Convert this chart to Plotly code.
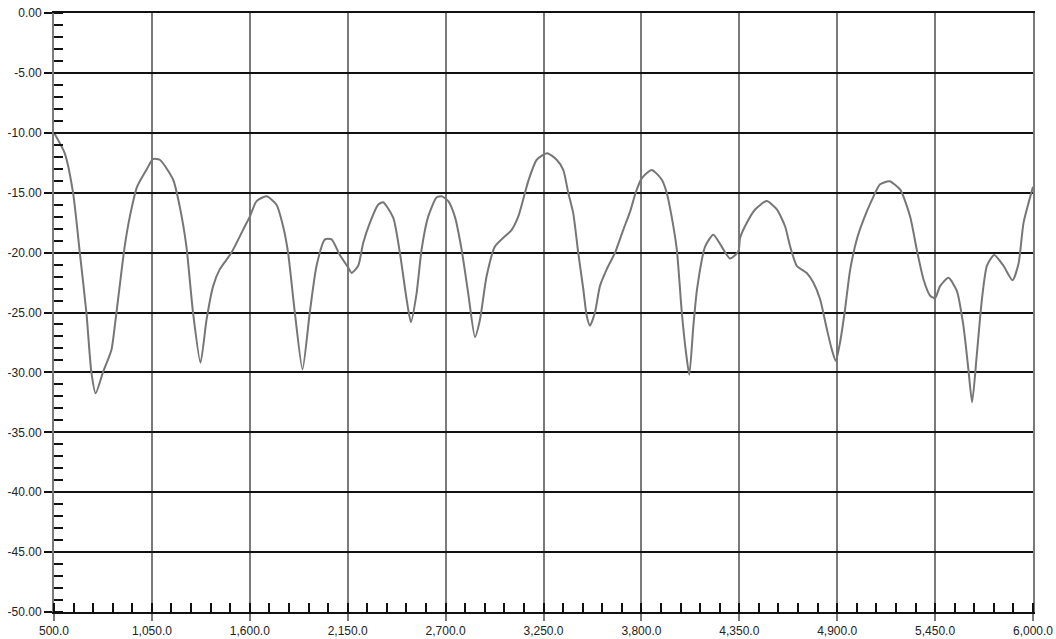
import plotly.graph_objects as go

# Frequency (x) and response level (y)
freq = [500, 560, 607, 645, 682, 710, 734, 775, 823, 841, 869, 897, 926, 967, 1019,
        1056, 1094, 1169, 1207, 1244, 1281, 1323, 1357, 1394, 1431, 1497, 1562, 1600,
        1638, 1694, 1750, 1787, 1815, 1853, 1896, 1937, 1975, 2022, 2059, 2106, 2153,
        2172, 2209, 2237, 2275, 2321, 2349, 2406, 2443, 2481, 2505, 2537, 2565, 2602,
        2649, 2678, 2715, 2752, 2790, 2827, 2865, 2893, 2930, 2977, 3071, 3108, 3146,
        3164, 3212, 3271, 3324, 3361, 3389, 3417, 3445, 3474, 3493, 3511, 3539, 3567,
        3605, 3652, 3698, 3736, 3770, 3802, 3858, 3914, 3942, 3970, 3999, 4027, 4051,
        4069, 4092, 4113, 4158, 4204, 4251, 4298, 4345, 4354, 4382, 4439, 4504, 4561,
        4607, 4636, 4673, 4729, 4766, 4804, 4842, 4870, 4892, 4916, 4944, 4972, 5010,
        5048, 5095, 5141, 5194, 5254, 5310, 5347, 5385, 5422, 5450, 5478, 5525, 5572,
        5609, 5637, 5658, 5685, 5713, 5741, 5782, 5834, 5885, 5919, 5947, 6000]
level = [-10.0, -11.7, -15.0, -20.0, -25.0, -30.0, -31.75, -30.0, -28.1, -26.2, -22.8,
         -19.5, -17.0, -14.5, -13.1, -12.2, -12.25, -13.9, -16.2, -19.5, -25.0, -29.2,
         -25.6, -22.8, -21.4, -20.0, -18.1, -17.0, -15.7, -15.3, -16.0, -17.8, -20.0,
         -25.0, -29.75, -25.0, -21.1, -18.9, -18.9, -20.2, -21.25, -21.7, -21.1, -19.2,
         -17.5, -16.0, -15.8, -17.1, -20.0, -23.9, -25.8, -23.4, -19.75, -17.0, -15.4,
         -15.3, -15.7, -17.0, -19.75, -23.4, -27.05, -25.6, -22.0, -19.5, -18.1, -17.0,
         -15.0, -14.05, -12.25, -11.7, -12.25, -13.1, -15.0, -16.7, -20.0, -23.1, -25.3,
         -26.1, -25.0, -22.8, -21.4, -20.0, -18.1, -16.6, -14.9, -13.8, -13.1, -13.9,
         -15.0, -17.0, -19.75, -25.0, -28.4, -30.2, -26.1, -23.0, -19.5, -18.5, -19.5,
         -20.5, -19.9, -18.8, -17.8, -16.4, -15.7, -16.4, -17.8, -19.5, -21.1, -21.7,
         -22.5, -23.9, -26.4, -28.1, -29.05, -27.5, -24.75, -21.5, -18.9, -17.25, -15.6,
         -14.3, -14.05, -14.75, -17.0, -19.75, -22.25, -23.6, -23.8, -22.8, -22.1, -23.2,
         -26.1, -29.75, -32.5, -28.4, -23.9, -21.1, -20.2, -21.1, -22.3, -20.9, -17.5,
         -14.5]

x_tick_vals = [500, 1050, 1600, 2150, 2700, 3250, 3800, 4350, 4900, 5450, 6000]
x_tick_text = ["500.0", "1,050.0", "1,600.0", "2,150.0", "2,700.0", "3,250.0",
               "3,800.0", "4,350.0", "4,900.0", "5,450.0", "6,000.0"]
y_tick_vals = [0, -5, -10, -15, -20, -25, -30, -35, -40, -45, -50]
y_tick_text = ["0.00", "-5.00", "-10.00", "-15.00", "-20.00", "-25.00", "-30.00",
               "-35.00", "-40.00", "-45.00", "-50.00"]

fig = go.Figure()
fig.add_trace(go.Scatter(
    x=freq, y=level, mode="lines",
    line=dict(color="#767676", width=2, shape="spline", smoothing=0.6),
    hoverinfo="x+y", showlegend=False,
))

font = dict(family="Liberation Sans, Arial, sans-serif", size=12, color="#222222")

fig.update_layout(
    width=1056, height=639,
    margin=dict(l=54, r=23, t=13, b=27, autoexpand=False),
    paper_bgcolor="white", plot_bgcolor="white",
    font=font,
    xaxis=dict(
        range=[500, 6000], automargin=False,
        tickmode="array", tickvals=x_tick_vals, ticktext=x_tick_text,
        showgrid=True, gridcolor="#7a7a7a", gridwidth=2,
        showline=True, linecolor="#111111", linewidth=1.5, mirror=True,
        ticks="outside", ticklen=7, tickcolor="#7a7a7a", tickwidth=2,
        minor=dict(dtick=110, tick0=500, ticks="inside", ticklen=9,
                   tickcolor="#111111", tickwidth=1.5, showgrid=False),
        zeroline=False, tickfont=font,
    ),
    yaxis=dict(
        range=[-50, 0], automargin=False,
        tickmode="array", tickvals=y_tick_vals, ticktext=y_tick_text,
        showgrid=True, gridcolor="#111111", gridwidth=1.5,
        showline=True, linecolor="#7a7a7a", linewidth=2, mirror=True,
        ticks="outside", ticklen=8, tickcolor="#111111", tickwidth=1.5,
        minor=dict(dtick=1, tick0=0, ticks="inside", ticklen=9,
                   tickcolor="#111111", tickwidth=1.5, showgrid=False),
        zeroline=False, tickfont=font,
    ),
)

fig.write_html("out.html")
